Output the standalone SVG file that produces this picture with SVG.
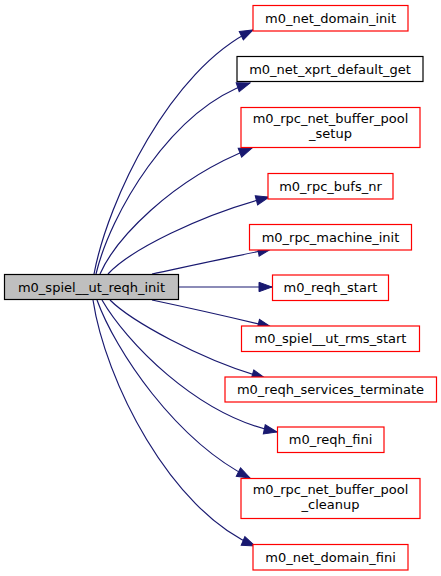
<svg xmlns="http://www.w3.org/2000/svg" width="441" height="576" viewBox="0 0 441 576">
<defs>
<style>
.n rect{fill:#ffffff;stroke:#ff0000;stroke-width:1.2}
.n.b rect{stroke:#000000}
.n.m rect{fill:#bfbfbf;stroke:#000000}
text{font-family:"DejaVu Sans",sans-serif;font-size:13px;fill:#000000;text-anchor:middle}
.e path{fill:none;stroke:#191970;stroke-width:1.2;marker-end:url(#ah)}
</style>
<marker id="ah" markerUnits="userSpaceOnUse" markerWidth="15" markerHeight="12" viewBox="0 0 15 12" refX="14" refY="6" orient="auto">
<path d="M1,1.3 L14,6 L1,10.7 Z" fill="#191970" stroke="#191970" stroke-width="1"/>
</marker>
</defs>
<rect width="441" height="576" fill="#ffffff"/>
<g id="edges" class="e">
<path d="M94,274 C108,200 170,70 253,30"/>
<path d="M96,274 C110,215 170,110 250,83"/>
<path d="M100,274 C115,240 170,180 252,148"/>
<path d="M108,274 C130,250 200,215 269,197"/>
<path d="M152,274 C185,267 230,257 271,249"/>
<path d="M179,287 L272,287"/>
<path d="M152,300 C185,307 230,317 271,327"/>
<path d="M110,300 C130,320 200,360 265,378"/>
<path d="M102,300 C125,340 195,415 277,432"/>
<path d="M97,300 C115,350 175,440 250,478"/>
<path d="M93,300 C105,380 170,510 255,546"/>
</g>
<g id="main" class="n m"><rect x="4.5" y="274.5" width="174" height="25"/><text x="91.5" y="291.5">m0_spiel__ut_reqh_init</text></g>
<g id="n1" class="n"><rect x="253" y="5.5" width="155" height="25.5"/><text x="330.5" y="22.5">m0_net_domain_init</text></g>
<g id="n2" class="n b"><rect x="237" y="56.5" width="186" height="25"/><text x="330" y="73.5">m0_net_xprt_default_get</text></g>
<g id="n3" class="n"><rect x="241" y="107.5" width="179" height="40"/><text x="330.5" y="123">m0_rpc_net_buffer_pool</text><text x="330.5" y="138">_setup</text></g>
<g id="n4" class="n"><rect x="268" y="173.5" width="125" height="25.5"/><text x="330.5" y="190.5">m0_rpc_bufs_nr</text></g>
<g id="n5" class="n"><rect x="249.5" y="224.5" width="162" height="25.5"/><text x="330.5" y="241.5">m0_rpc_machine_init</text></g>
<g id="n6" class="n"><rect x="272.5" y="275" width="116" height="25.5"/><text x="330.5" y="292">m0_reqh_start</text></g>
<g id="n7" class="n"><rect x="241.5" y="326" width="178" height="25.5"/><text x="330.5" y="343">m0_spiel__ut_rms_start</text></g>
<g id="n8" class="n"><rect x="225" y="377" width="211.5" height="25"/><text x="330.5" y="394">m0_reqh_services_terminate</text></g>
<g id="n9" class="n"><rect x="277.5" y="427" width="106.5" height="25.5"/><text x="330.5" y="444">m0_reqh_fini</text></g>
<g id="n10" class="n"><rect x="241" y="478.5" width="179" height="40"/><text x="330.5" y="494">m0_rpc_net_buffer_pool</text><text x="330.5" y="509">_cleanup</text></g>
<g id="n11" class="n"><rect x="253" y="544.5" width="155" height="25.5"/><text x="330.5" y="561.5">m0_net_domain_fini</text></g>
</svg>
